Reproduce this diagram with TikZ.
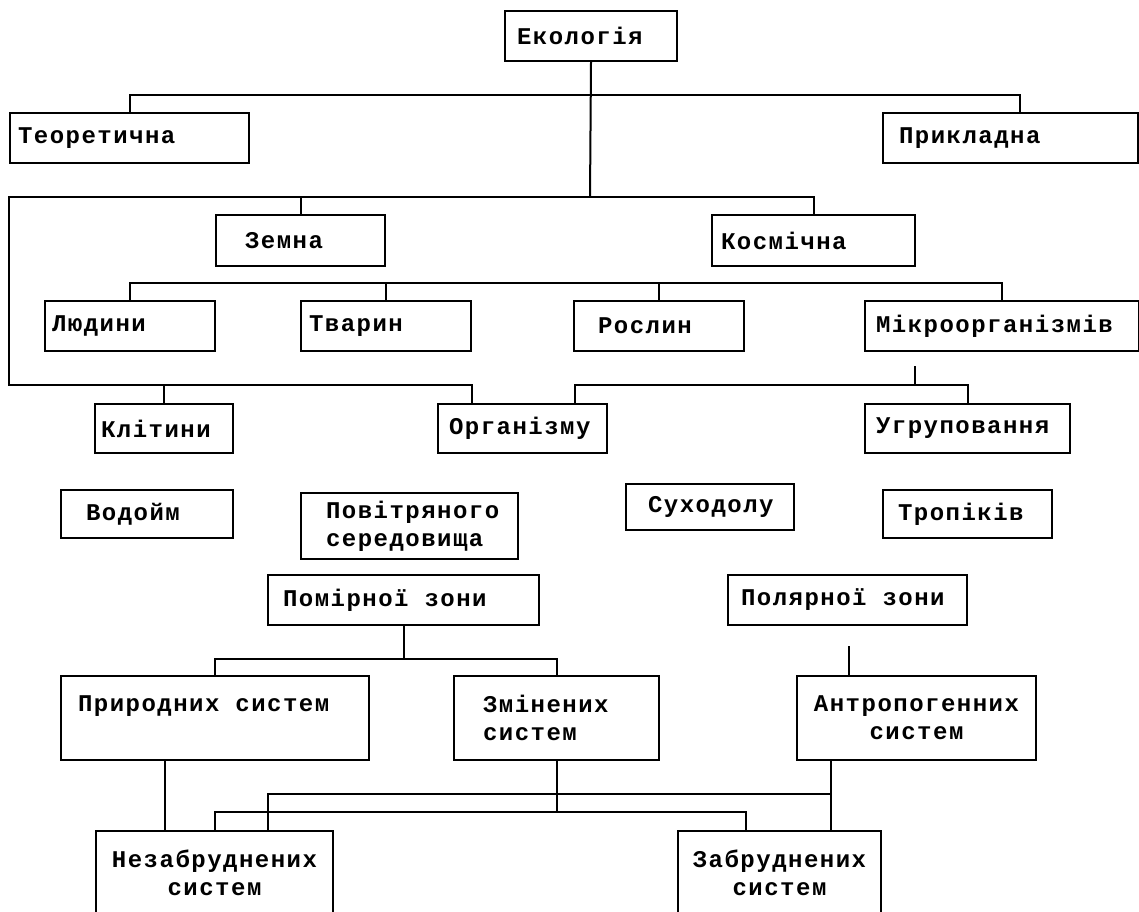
\documentclass[tikz,border=0pt]{standalone}
\usepackage{fontspec}
\newfontfamily\boxfont{Liberation Mono}[LetterSpace=6.2]
\newcommand\gap{\kern15.9pt\relax}
\begin{document}
\begin{tikzpicture}[x=1pt, y=-1pt,
  blok/.style={draw, line width=2pt, anchor=north west, inner ysep=0pt,
    font=\boxfont\bfseries\fontsize{24pt}{28pt}\selectfont},
  lin/.style={line width=2pt}
]
\useasboundingbox (0,0) rectangle (1139,911);
\clip (0,0) rectangle (1139,911);
\foreach \nm/\x/\y/\w/\h/\p/\al/\txt in {
  ekol/504/10/172/50/12/left/Екологія,
  teor/9/112/239/50/8/left/Теоретична,
  prykl/882/112/255/50/16/left/Прикладна,
  zemna/215/214/169/51/29/left/Земна,
  kosm/711/214/203/51/9/left/Космічна,
  lyud/44/300/170/50/7/left/Людини,
  tvar/300/300/170/50/8/left/Тварин,
  rosl/573/300/170/50/24/left/Рослин,
  mikro/864/300/274/50/11/left/Мікроорганізмів,
  klit/94/403/138/49/6/left/Клітини,
  org/437/403/169/49/11/left/Організму,
  ugr/864/403/205/49/11/left/Угруповання,
  vodo/60/489/172/48/25/left/Водойм,
  povit/300/492/217/66/25/left/{Повітряного\\середовища},
  sukh/625/483/168/46/22/left/Суходолу,
  trop/882/489/169/48/15/left/Тропіків,
  pomir/267/574/271/50/15/left/{Помірної\gap зони},
  polyar/727/574/239/50/13/left/{Полярної\gap зони},
  pryr/60/675/308/84/17/left/{Природних\gap систем\\\mbox{}},
  zmin/453/675/205/84/29/left/{Змінених\\систем},
  antr/796/675/239/84/8/center/{Антропогенних\\систем},
  nezab/95/830/237/84/8/center/{Незабруднених\\систем},
  zabr/677/830/203/84/8/center/{Забруднених\\систем}}
{
  \pgfmathsetmacro\tw{\w-2*\p}
  \node[blok, align=\al, text width=\tw pt, inner xsep=\p pt,
    minimum height=\h pt] (\nm) at (\x,\y) {\txt};
}
% buses
\coordinate (b1) at (590,95);
\coordinate (b2) at (590,197);
\coordinate (b2l) at (9,385);
\coordinate (b3) at (0,283);
\coordinate (b4) at (915,385);
\coordinate (b5) at (0,659);
\coordinate (b6) at (0,812);
\coordinate (b7) at (0,794);
\draw[lin] (teor.north) |- (b1) -| ([xshift=9.5pt]prykl.north);
\draw[lin] (ekol.south) -- (b2);
\draw[lin] (kosm.north) |- (b2l |- b2) -- (b2l) -| ([xshift=-50.5pt]org.north);
\draw[lin] (zemna.north) -- (zemna.north |- b2);
\draw[lin] (lyud.north) |- (mikro.north |- b3) -- (mikro.north);
\draw[lin] (tvar.north) -- (tvar.north |- b3);
\draw[lin] (rosl.north) -- (rosl.north |- b3);
\draw[lin] (klit.north) -- (klit.north |- b2l);
\draw[lin] ([xshift=52.5pt]org.north) |- (ugr.north |- b4) -- (ugr.north);
\draw[lin] (b4) -- ++(0,-19);
\draw[lin] (pomir.south) -- (pomir.south |- b5);
\draw[lin] (pryr.north) |- (zmin.north |- b5) -- (zmin.north);
% bottom
\coordinate (n2) at ([xshift=-49.5pt]nezab.north);
\coordinate (n1) at ([xshift=53.5pt]nezab.north);
\coordinate (z1) at ([xshift=-33.5pt]zabr.north);
\coordinate (z2) at ([xshift=51.5pt]zabr.north);
\draw[lin] (n2) -- (pryr.south -| n2);
\draw[lin] (zmin.south) -- (zmin.south |- b6);
\draw[lin] (nezab.north) |- (z1 |- b6) -- (z1);
\draw[lin] (n1) |- (z2 |- b7);
\draw[lin] (z2) -- (antr.south -| z2);
\draw[lin] ([xshift=-67.5pt]antr.north) -- ++(0,-29);
\end{tikzpicture}
\end{document}
